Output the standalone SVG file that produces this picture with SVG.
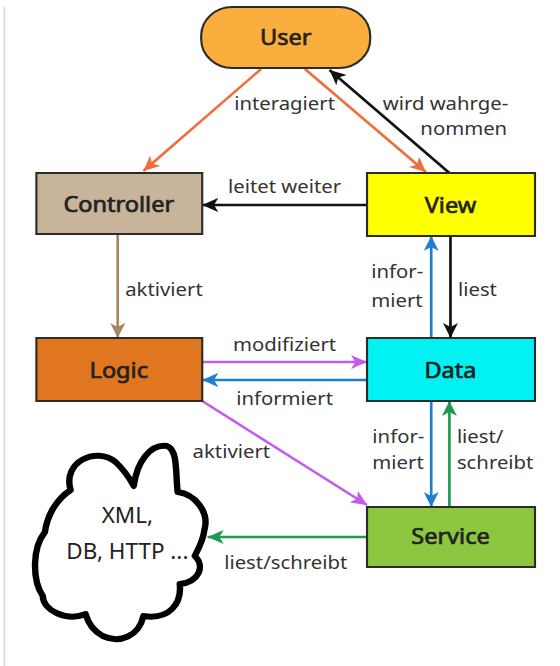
<svg xmlns="http://www.w3.org/2000/svg" width="560" height="666" viewBox="0 0 560 666">
<style>
.node{stroke:#2b2b2b;stroke-width:2}
.nt{font-family:"Noto Sans","Open Sans",sans-serif;font-size:22px;fill:#222;stroke:#222;stroke-width:0.7;text-anchor:middle}
.lb{font-family:"Noto Sans","Open Sans",sans-serif;font-size:19px;fill:#333}
.c{fill:none;stroke-width:2.5}
</style>
<defs>
<marker id="aO" markerUnits="userSpaceOnUse" markerWidth="16" markerHeight="14" refX="15" refY="7" orient="auto"><path d="M0,0 L15,7 L0,14 L4,7 z" fill="#F26D3D"/></marker>
<marker id="aK" markerUnits="userSpaceOnUse" markerWidth="16" markerHeight="14" refX="15" refY="7" orient="auto"><path d="M0,0 L15,7 L0,14 L4,7 z" fill="#111"/></marker>
<marker id="aT" markerUnits="userSpaceOnUse" markerWidth="16" markerHeight="14" refX="15" refY="7" orient="auto"><path d="M0,0 L15,7 L0,14 L4,7 z" fill="#A8865F"/></marker>
<marker id="aP" markerUnits="userSpaceOnUse" markerWidth="16" markerHeight="14" refX="15" refY="7" orient="auto"><path d="M0,0 L15,7 L0,14 L4,7 z" fill="#C45AEE"/></marker>
<marker id="aB" markerUnits="userSpaceOnUse" markerWidth="16" markerHeight="14" refX="15" refY="7" orient="auto"><path d="M0,0 L15,7 L0,14 L4,7 z" fill="#1E7ED0"/></marker>
<marker id="aG" markerUnits="userSpaceOnUse" markerWidth="16" markerHeight="14" refX="15" refY="7" orient="auto"><path d="M0,0 L15,7 L0,14 L4,7 z" fill="#1C9A52"/></marker>
</defs>
<rect width="560" height="666" fill="#fff"/>
<g transform="scale(1.07,1)">
<line x1="4" y1="7" x2="4" y2="666" stroke="#d4d4d4" stroke-width="1.2"/>

<g id="connectors">
<line class="c" x1="244" y1="69" x2="134" y2="171" stroke="#F26D3D" marker-end="url(#aO)"/>
<line class="c" x1="285" y1="69" x2="398" y2="172" stroke="#F26D3D" marker-end="url(#aO)"/>
<line class="c" x1="420" y1="173" x2="308" y2="70" stroke="#111" marker-end="url(#aK)"/>
<line class="c" x1="343" y1="205" x2="189" y2="205" stroke="#111" marker-end="url(#aK)"/>
<line class="c" x1="110" y1="234" x2="110" y2="338" stroke="#A8865F" marker-end="url(#aT)"/>
<line class="c" x1="421" y1="236" x2="421" y2="338" stroke="#111" marker-end="url(#aK)"/>
<line class="c" x1="403" y1="338" x2="403" y2="236" stroke="#1E7ED0" marker-end="url(#aB)"/>
<line class="c" x1="189" y1="362" x2="343" y2="362" stroke="#C45AEE" marker-end="url(#aP)"/>
<line class="c" x1="343" y1="380" x2="189" y2="380" stroke="#1E7ED0" marker-end="url(#aB)"/>
<line class="c" x1="189" y1="401" x2="343" y2="505" stroke="#C45AEE" marker-end="url(#aP)"/>
<line class="c" x1="403" y1="401" x2="403" y2="507" stroke="#1E7ED0" marker-end="url(#aB)"/>
<line class="c" x1="420" y1="507" x2="420" y2="401" stroke="#1C9A52" marker-end="url(#aG)"/>
<line class="c" x1="343" y1="537" x2="194" y2="537" stroke="#1C9A52" marker-end="url(#aG)"/>
<text class="lb" x="266" y="110" text-anchor="middle">interagiert</text>
<text class="lb" x="475" y="110" text-anchor="end">wird wahrge-</text>
<text class="lb" x="474" y="135" text-anchor="end">nommen</text>
<text class="lb" x="266" y="193" text-anchor="middle">leitet weiter</text>
<text class="lb" x="117" y="296">aktiviert</text>
<text class="lb" x="347" y="278">infor-</text>
<text class="lb" x="347" y="307">miert</text>
<text class="lb" x="428" y="296">liest</text>
<text class="lb" x="266" y="351" text-anchor="middle">modifiziert</text>
<text class="lb" x="266" y="405" text-anchor="middle">informiert</text>
<text class="lb" x="180" y="458">aktiviert</text>
<text class="lb" x="348" y="443">infor-</text>
<text class="lb" x="348" y="469">miert</text>
<text class="lb" x="427" y="443">liest/</text>
<text class="lb" x="427" y="469">schreibt</text>
<text class="lb" x="267" y="569" text-anchor="middle">liest/schreibt</text>
</g>

<g id="user">
<rect class="node" x="188" y="7" width="158" height="61" rx="29" fill="#F9AE3D"/>
<text class="nt" x="267" y="45">User</text>
</g>
<g id="controller">
<rect class="node" x="34" y="173" width="155" height="61" fill="#C8B49A"/>
<text class="nt" x="111" y="212">Controller</text>
</g>
<g id="view">
<rect class="node" x="343" y="173" width="157" height="63" fill="#FFFF00"/>
<text class="nt" x="421" y="213">View</text>
</g>
<g id="logic">
<rect class="node" x="34" y="338" width="155" height="63" fill="#E07720"/>
<text class="nt" x="111" y="378">Logic</text>
</g>
<g id="data">
<rect class="node" x="343" y="338" width="157" height="63" fill="#00F2F2"/>
<text class="nt" x="421" y="378">Data</text>
</g>
<g id="service">
<rect class="node" x="343" y="507" width="157" height="60" fill="#8DC63F"/>
<text class="nt" x="421" y="544">Service</text>
</g>
<g id="cloud">
<path d="M66 490 C58 462 90 446 108 462 C114 468 120 476 125 486 C128 462 140 444 156 446 C166 450 164 470 166 492 C182 494 196 512 191 530 C190 540 186 548 182 556 C192 566 186 582 168 584 C170 604 158 620 134 616 C130 636 112 644 96 636 C86 630 82 622 80 614 C62 622 40 610 40 596 C30 580 30 548 42 532 C44 516 52 500 66 490 Z" fill="#fff" stroke="#000" stroke-width="6" stroke-linejoin="round"/>
<text x="119" y="523" font-family="'Noto Sans','Open Sans',sans-serif" font-size="21" fill="#222" text-anchor="middle">XML,</text>
<text x="119" y="559" font-family="'Noto Sans','Open Sans',sans-serif" font-size="21" fill="#222" text-anchor="middle">DB, HTTP ...</text>
</g>
</g>
</svg>
